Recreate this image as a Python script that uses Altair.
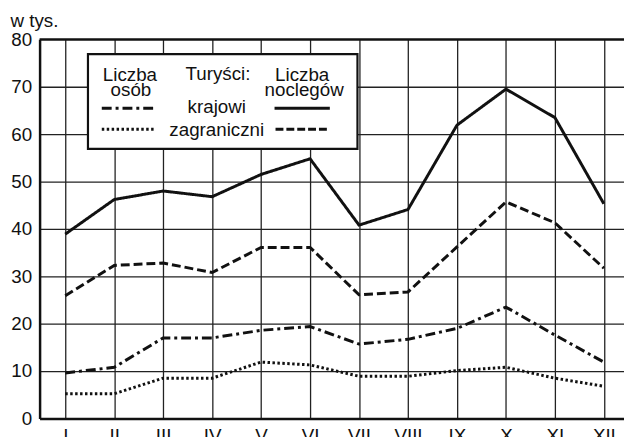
import altair as alt
import pandas as pd

months = ["I", "II", "III", "IV", "V", "VI", "VII", "VIII", "IX", "X", "XI", "XII"]
noclegi_krajowi = [38.9, 46.2, 48.0, 46.8, 51.5, 54.8, 40.8, 44.1, 61.9, 69.5, 63.5, 45.3]
noclegi_zagraniczni = [25.9, 32.3, 32.8, 30.8, 36.1, 36.1, 26.1, 26.7, 36.2, 45.7, 41.3, 31.7]
osoby_krajowi = [9.6, 10.8, 17.0, 17.0, 18.6, 19.4, 15.7, 16.7, 19.0, 23.5, 17.6, 11.9]
osoby_zagraniczni = [5.2, 5.2, 8.5, 8.5, 11.9, 11.3, 8.9, 8.9, 10.1, 10.8, 8.5, 6.8]

series_names = ["noclegi krajowi", "noclegi zagraniczni", "osoby krajowi", "osoby zagraniczni"]
series_values = [noclegi_krajowi, noclegi_zagraniczni, osoby_krajowi, osoby_zagraniczni]
dashes = [[1, 0], [9, 4], [10, 4, 3, 4], [2.5, 2.5]]

rows = []
for name, vals in zip(series_names, series_values):
    for i, (m, v) in enumerate(zip(months, vals)):
        rows.append({"idx": i + 1, "month": m, "value": v, "series": name})
df = pd.DataFrame(rows)

W, H = 592, 384
FONT = "Liberation Sans"
FS = 19
INK = "#111111"
step = 49.6
x_lo = 1 - 26 / step
x_hi = 1 + (W - 26) / step

label_expr = "[" + ",".join("'" + m + "'" for m in months) + "][datum.value - 1]"

x_enc = alt.X(
    "idx:Q",
    scale=alt.Scale(domain=[x_lo, x_hi], nice=False, zero=False),
    axis=alt.Axis(
        values=list(range(1, 13)), labelExpr=label_expr, title=None, ticks=False,
        labelPadding=8, labelFont=FONT, labelFontSize=FS, labelColor=INK,
        domainColor=INK, domainWidth=2.5, gridColor="#222222", gridWidth=1.3,
        labelBaseline="top",
    ),
)
y_enc = alt.Y(
    "value:Q",
    scale=alt.Scale(domain=[0, 80], nice=False),
    axis=alt.Axis(
        values=list(range(0, 81, 10)), ticks=False, labelPadding=8,
        labelFont=FONT, labelFontSize=FS, labelColor=INK,
        domainColor=INK, domainWidth=2.5, gridColor="#222222", gridWidth=1.3,
        title="w tys.", titleAngle=0, titleX=-30, titleY=-13.5, titleAlign="left",
        titleBaseline="alphabetic", titleFont=FONT, titleFontSize=FS,
        titleFontWeight="normal", titleColor=INK,
    ),
)

lines = alt.Chart(df).mark_line(strokeWidth=3, color=INK, strokeCap="butt").encode(
    x=x_enc,
    y=y_enc,
    detail="series:N",
    strokeDash=alt.StrokeDash(
        "series:N",
        scale=alt.Scale(domain=series_names, range=dashes),
        legend=None,
    ),
)

one = alt.Data(values=[{}])

top_border = alt.Chart(one).mark_rule(color=INK, strokeWidth=2.5).encode(
    x=alt.value(0), x2=alt.value(W), y=alt.value(0)
)

box = alt.Chart(one).mark_rect(fill="white", stroke=INK, strokeWidth=2.2).encode(
    x=alt.value(49), x2=alt.value(322), y=alt.value(15), y2=alt.value(111)
)

legend_texts = [
    ("Liczba", 91.5, 41.7),
    ("osób", 92.5, 57.7),
    ("Turyści:", 180.7, 41.3),
    ("krajowi", 179.5, 75),
    ("zagraniczni", 179.5, 97.7),
    ("Liczba", 266, 41.7),
    ("noclegów", 268, 57.7),
]
text_layers = [
    alt.Chart(one).mark_text(font=FONT, fontSize=FS, color=INK, align="center",
                             baseline="alphabetic").encode(
        x=alt.value(tx), y=alt.value(ty), text=alt.value(t)
    )
    for t, tx, ty in legend_texts
]

legend_samples = [
    (63, 119, 69.7, dashes[2]),
    (63, 117, 91, dashes[3]),
    (238, 294, 69.7, dashes[0]),
    (239, 292, 91, [8, 3]),
]
sample_layers = [
    alt.Chart(one).mark_rule(color=INK, strokeWidth=3, strokeDash=d, strokeCap="butt").encode(
        x=alt.value(xa), x2=alt.value(xb), y=alt.value(yy)
    )
    for xa, xb, yy, d in legend_samples
]

chart = alt.layer(
    lines, top_border, box, *text_layers, *sample_layers
).properties(
    width=W, height=H,
    autosize=alt.AutoSizeParams(type="none"),
    padding={"left": 32, "top": 29, "right": 0, "bottom": 16},
).configure_view(stroke=None).configure(background="white")

chart.save("out.html", embed_options={"renderer": "svg", "actions": False})
